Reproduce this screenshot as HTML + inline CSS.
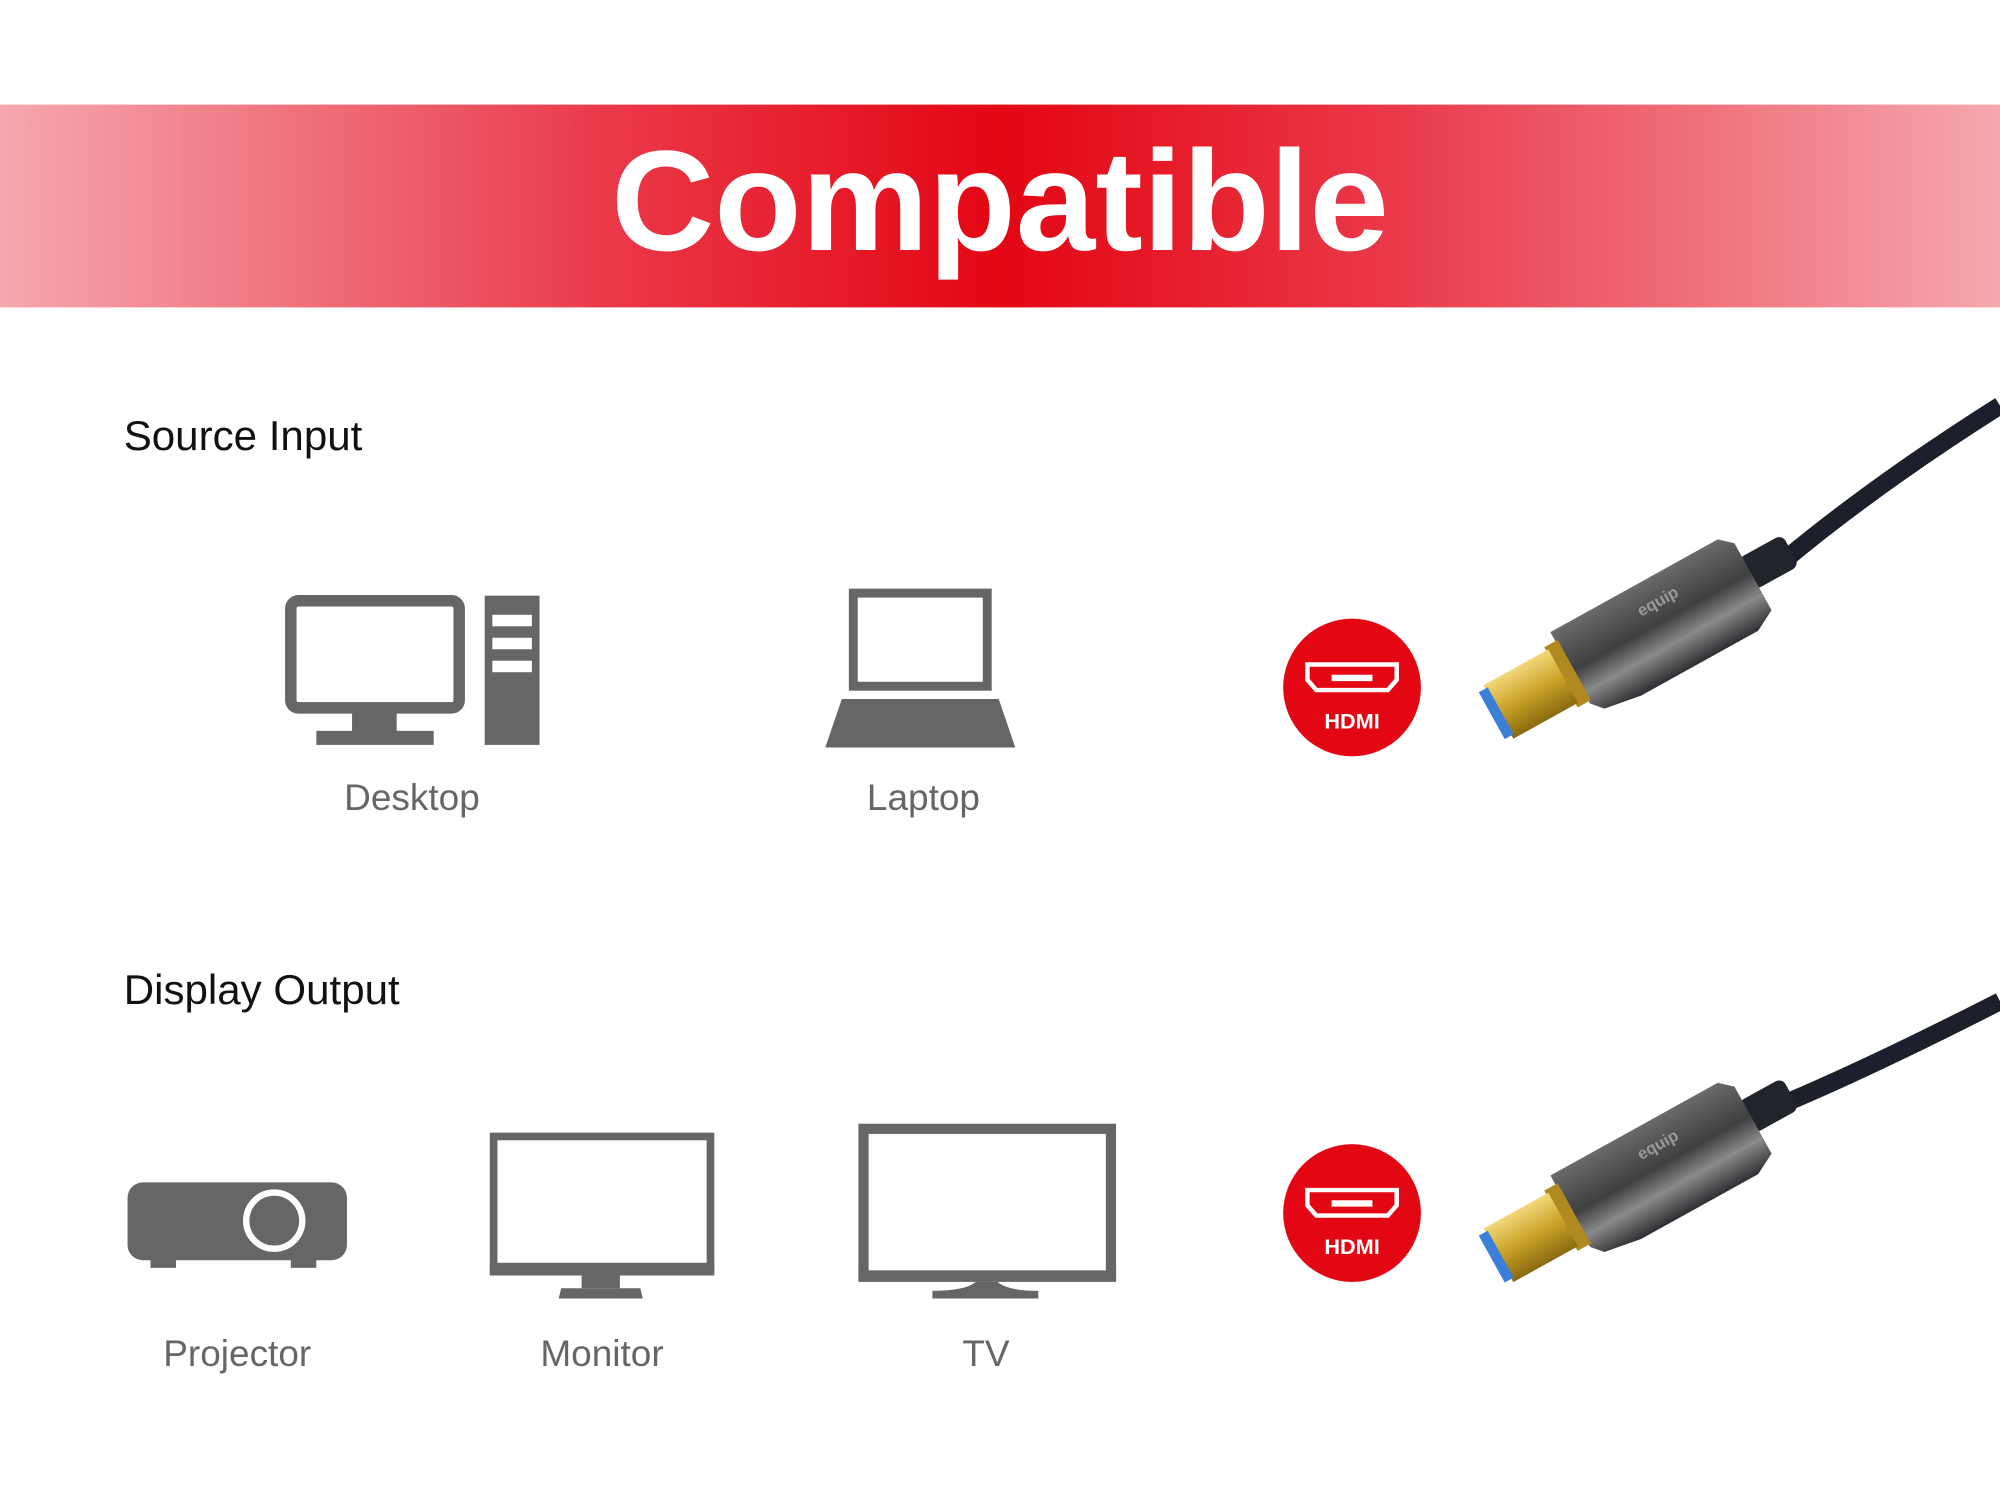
<!DOCTYPE html>
<html><head><meta charset="utf-8"><style>
html,body{margin:0;padding:0;background:#fff;}
svg{display:block;}
text{font-family:"Liberation Sans","DejaVu Sans",sans-serif;}
</style></head><body>
<svg width="2000" height="1500" viewBox="0 0 1568 1176" xmlns="http://www.w3.org/2000/svg">
<defs>
<linearGradient id="bn" x1="0" x2="1" y1="0" y2="0">
<stop offset="0" stop-color="#f5a8ae"/>
<stop offset="0.3" stop-color="#ea3a4a"/>
<stop offset="0.5" stop-color="#e30613"/>
<stop offset="0.7" stop-color="#ea3a4a"/>
<stop offset="1" stop-color="#f5a8ae"/>
</linearGradient>
<linearGradient id="gold" x1="0" x2="0" y1="0" y2="1">
<stop offset="0" stop-color="#f3d77a"/><stop offset="0.5" stop-color="#c9a227"/><stop offset="1" stop-color="#8a6a10"/>
</linearGradient>
<linearGradient id="body" x1="0" x2="0" y1="0" y2="1">
<stop offset="0" stop-color="#6a6a6a"/><stop offset="0.45" stop-color="#3f3f42"/><stop offset="0.7" stop-color="#8a8a8a"/><stop offset="1" stop-color="#2f2f33"/>
</linearGradient>
<g id="conn">
<rect x="228" y="-15" width="40" height="28" rx="6" fill="#22242c"/>
<path d="M72,-36 L222,-36 L232,-27 L232,33 L215,42 L110,42 L80,37 L72,28 Z" fill="url(#body)"/>
<rect x="62" y="-28" width="12" height="54" fill="#b08a20"/>
<rect x="6" y="-25" width="58" height="48" fill="url(#gold)"/>
<rect x="0" y="-22" width="8" height="42" fill="#3a7fd8"/>
<text x="140" y="-12" font-size="13" font-weight="bold" fill="#999">equip</text>
</g>
</defs>
<rect x="0" y="82" width="1568" height="159" fill="url(#bn)"/>
<text x="784" y="196" font-size="112" font-weight="bold" fill="#fff" text-anchor="middle">Compatible</text>
<text x="97" y="353" font-size="33" fill="#111">Source Input</text>
<text x="97" y="787" font-size="33" fill="#111">Display Output</text>
<g fill="#666" stroke="none">
<rect x="228" y="471" width="132" height="84" rx="6" fill="none" stroke="#666" stroke-width="9"/>
<rect x="276" y="558" width="35" height="16"/>
<rect x="248" y="573" width="92" height="11"/>
<rect x="380" y="467" width="43" height="117"/>
<rect x="386" y="482" width="31" height="9" fill="#fff"/>
<rect x="386" y="500" width="31" height="9" fill="#fff"/>
<rect x="386" y="518" width="31" height="9" fill="#fff"/>
<rect x="669" y="465" width="105" height="73" fill="none" stroke="#666" stroke-width="7"/>
<path d="M660,548 L783,548 L796,586 L647,586 Z"/>
<rect x="100" y="927" width="172" height="61" rx="12"/>
<rect x="118" y="985" width="20" height="9"/>
<rect x="228" y="985" width="20" height="9"/>
<circle cx="215" cy="957" r="22" fill="none" stroke="#fff" stroke-width="5"/>
<rect x="387" y="891" width="170" height="104" fill="none" stroke="#666" stroke-width="6"/>
<rect x="384" y="990" width="176" height="10"/>
<rect x="456" y="1000" width="30" height="10"/>
<path d="M440,1010 L502,1010 L504,1018 L438,1018 Z"/>
<rect x="677" y="885" width="194" height="115" fill="none" stroke="#666" stroke-width="8"/>
<rect x="673" y="996" width="202" height="9"/>
<path d="M765,1005 L782,1005 Q790,1012 814,1012 L814,1018 L731,1018 L731,1012 Q757,1012 765,1005 Z"/>
</g>
<g fill="#666" font-size="29" text-anchor="middle">
<text x="323" y="635">Desktop</text>
<text x="724" y="635">Laptop</text>
<text x="186" y="1071">Projector</text>
<text x="472" y="1071">Monitor</text>
<text x="773" y="1071">TV</text>
</g>
<g>
<circle cx="1060" cy="539" r="54" fill="#e30613"/>
<path d="M1025,521 L1095,521 L1095,533 L1088,541 L1032,541 L1025,533 Z" fill="none" stroke="#fff" stroke-width="3.5"/>
<rect x="1044" y="529" width="32" height="5" fill="#fff"/>
<text x="1060" y="571" font-size="17" font-weight="bold" fill="#fff" text-anchor="middle">HDMI</text>
</g>
<g transform="translate(0,412)">
<circle cx="1060" cy="539" r="54" fill="#e30613"/>
<path d="M1025,521 L1095,521 L1095,533 L1088,541 L1032,541 L1025,533 Z" fill="none" stroke="#fff" stroke-width="3.5"/>
<rect x="1044" y="529" width="32" height="5" fill="#fff"/>
<text x="1060" y="571" font-size="17" font-weight="bold" fill="#fff" text-anchor="middle">HDMI</text>
</g>
<path d="M1568,318 Q1470,380 1398,440" stroke="#1d1f2a" stroke-width="14" fill="none"/>
<use href="#conn" transform="translate(1170,562) rotate(-29)"/>
<path d="M1568,785 Q1460,840 1392,868" stroke="#1d1f2a" stroke-width="14" fill="none"/>
<use href="#conn" transform="translate(1170,988) rotate(-29)"/>
</svg>
</body></html>
